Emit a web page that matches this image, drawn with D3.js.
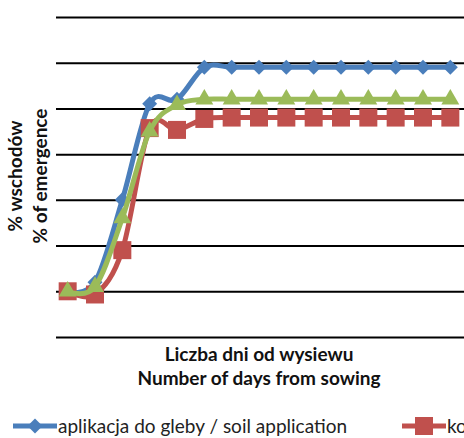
<!DOCTYPE html>
<html>
<head>
<meta charset="utf-8">
<script src="https://cdn.jsdelivr.net/npm/d3@7"></script>
<style>
  body { margin: 0; background: #fff; overflow: hidden; }
  text { font-family: Lato, "Open Sans", sans-serif; }
</style>
</head>
<body>
<div id="chart"></div>
<script>
// days after sowing (category axis)
var days = [1, 2, 3, 4, 5, 6, 7, 8, 9, 10, 11, 12, 13, 14, 15];
// % emergence per series
var soilApplication = [10, 12, 30, 51, 52, 59, 59, 59, 59, 59, 59, 59, 59, 59, 59];
var control         = [10, 9.3, 19, 45.7, 45.3, 47.7, 48, 48, 48, 48, 48, 48, 48, 48, 48];
var seedTreatment   = [10, 11, 26, 45, 50.8, 52, 52, 52, 52, 52, 52, 52, 52, 52, 52];
var yTicks = [0, 10, 20, 30, 40, 50, 60, 70];
var seriesNames = ["aplikacja do gleby / soil application", "kontrola / control", "zaprawianie nasion / seed treatment"];

var size = {width: 464, height: 438, margin: {top: 17, right: 0, bottom: 101, left: 54}};

var svg = d3.select("#chart").append("svg")
    .attr("width", size.width)
    .attr("height", size.height);

var x = d3.scaleBand()
    .domain(days)
    .range([size.margin.left, size.width]);

var y = d3.scaleLinear()
    .domain([0, 70])
    .range([size.height - size.margin.bottom, size.margin.top]);

var cx = function(d) { return x(d) + x.bandwidth() / 2; };

// gridlines
var grid = svg.append("g")
    .attr("class", "grid")
    .attr("transform", "translate(" + (size.margin.left + 2) + ",0)")
    .call(d3.axisLeft(y).tickValues(yTicks).tickSize(-(size.width - size.margin.left - 2)).tickFormat(""));
grid.select(".domain").remove();
grid.selectAll(".tick line")
    .attr("stroke", "#000")
    .attr("stroke-width", 2);

var series = [
  {name: seriesNames[0], values: soilApplication, color: "#4A7EBB", symbol: d3.symbolSquare, symSize: 112, rot: 45},
  {name: seriesNames[1], values: control, color: "#C0504D", symbol: d3.symbolSquare, symSize: 324, rot: 0},
  {name: seriesNames[2], values: seedTreatment, color: "#9BBB59", symbol: d3.symbolTriangle, symSize: 140, rot: 0}
];

// excel-style smoothed line
var line = d3.line()
    .x(function(d) { return cx(d.day); })
    .y(function(d) { return y(d.v); })
    .curve(d3.curveCatmullRom.alpha(0));

series.forEach(function(s) {
  var pts = days.map(function(d, i) { return {day: d, v: s.values[i]}; });
  var g = svg.append("g").attr("class", "series");
  g.append("path")
      .datum(pts)
      .attr("fill", "none")
      .attr("stroke", s.color)
      .attr("stroke-width", 5)
      .attr("stroke-linejoin", "round")
      .attr("d", line);
  g.selectAll("path.marker")
      .data(pts)
      .enter().append("path")
      .attr("class", "marker")
      .attr("fill", s.color)
      .attr("transform", function(d) { return "translate(" + cx(d.day) + "," + y(d.v) + ") rotate(" + s.rot + ")"; })
      .attr("d", d3.symbol().type(s.symbol).size(s.symSize));
});

// axis titles
var xTitle = svg.append("text")
    .attr("text-anchor", "middle")
    .attr("font-weight", "bold")
    .attr("font-size", 19)
    .attr("fill", "#111");
xTitle.append("tspan").attr("x", 259).attr("y", 361).text("Liczba dni od wysiewu");
xTitle.append("tspan").attr("x", 259).attr("y", 385).text("Number of days from sowing");

var yTitle = svg.append("text")
    .attr("text-anchor", "middle")
    .attr("font-weight", "bold")
    .attr("font-size", 19)
    .attr("fill", "#111")
    .attr("transform", "translate(0,176) rotate(-90)");
yTitle.append("tspan").attr("x", 0).attr("y", 22).text("% wschodów");
yTitle.append("tspan").attr("x", 0).attr("y", 47).text("% of emergence");

// legend
var legendX = [13, 402, 791];
var legend = svg.append("g").attr("class", "legend")
    .selectAll("g")
    .data(series)
    .enter().append("g")
    .attr("transform", function(d, i) { return "translate(" + legendX[i] + ",426)"; });

legend.append("line")
    .attr("x1", 0).attr("x2", 44)
    .attr("stroke", function(d) { return d.color; })
    .attr("stroke-width", 5);
legend.append("path")
    .attr("fill", function(d) { return d.color; })
    .attr("transform", function(d) { return "translate(22,0) rotate(" + d.rot + ")"; })
    .attr("d", function(d) { return d3.symbol().type(d.symbol).size(d.symSize)(); });
legend.append("text")
    .attr("x", 45)
    .attr("dy", "0.35em")
    .attr("font-size", 19)
    .attr("fill", "#222")
    .text(function(d) { return d.name; });
</script>
</body>
</html>
